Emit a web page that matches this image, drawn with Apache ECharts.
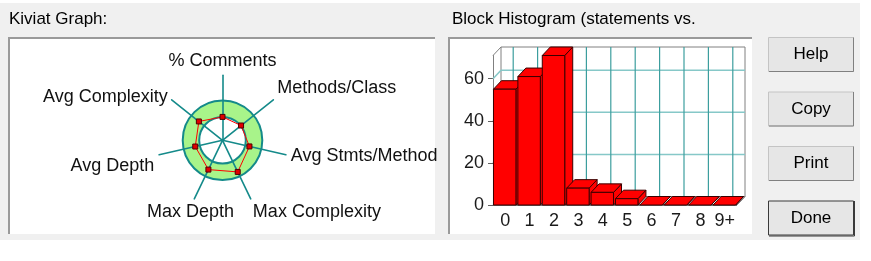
<!DOCTYPE html>
<html>
<head>
<meta charset="utf-8">
<script src="https://cdn.jsdelivr.net/npm/echarts@6/dist/echarts.min.js"></script>
<style>
html,body{margin:0;padding:0;background:#ffffff;}
#c{width:871px;height:261px;}
</style>
</head>
<body>
<div id="c"></div>
<script>
// ---- data ----
const kiviatAxes = ['% Comments', 'Avg Complexity', 'Avg Depth', 'Max Depth', 'Max Complexity', 'Avg Stmts/Method', 'Methods/Class'];
const kiviatValues = [36, 46.5, 43, 50, 54, 42.5, 36.5];
const histCategories = ['0', '1', '2', '3', '4', '5', '6', '7', '8', '9+'];
const histValues = [55, 61, 71, 8, 6, 3, 0, 0, 0, 0];
const yTickValues = [0, 20, 40, 60];
const yMax = 71;
const buttonLabels = ['Help', 'Copy', 'Print', 'Done'];
const titles = ['Kiviat Graph:', 'Block Histogram (statements vs.'];

// ---- style ----
const FONT = 'Liberation Sans, Arial, sans-serif';
const TEAL = '#148a8a';
const DX = 8, DY = -8.5;
const BAR_LINE = '#3a0000';

const labelStyleKey = {
  'Methods/Class': 'up',
  'Max Complexity': 'down',
  'Avg Depth': 'down2',
  'Max Depth': 'md'
};

const chart = echarts.init(document.getElementById('c'), null, {renderer: 'canvas'});

function wallsRender(params, api) {
  const band = api.size([1, 0])[0];
  const n = histCategories.length;
  const x0 = api.coord([0, 0])[0] - band / 2;
  const x1 = api.coord([n - 1, 0])[0] + band / 2;
  const yb = api.coord([0, 0])[1];
  const yt = api.coord([0, yMax])[1];
  const ch = [];
  // floor
  ch.push({type: 'polygon', shape: {points: [[x0, yb], [x1, yb], [x1 + DX, yb + DY], [x0 + DX, yb + DY]]},
    style: {fill: '#ffffff', stroke: '#808080', lineWidth: 1}});
  // back wall
  ch.push({type: 'rect', shape: {x: x0 + DX, y: yt + DY, width: x1 - x0, height: yb - yt},
    style: {fill: '#ffffff', stroke: '#808080', lineWidth: 1}});
  // back horizontal grid
  yTickValues.forEach(function (t) {
    if (t === 0) return;
    const y = api.coord([0, t])[1];
    ch.push({type: 'line', shape: {x1: x0 + DX, y1: y + DY, x2: x1 + DX, y2: y + DY},
      style: {stroke: '#86c8c8', lineWidth: 1.5}});
    ch.push({type: 'line', shape: {x1: x0, y1: y, x2: x0 + DX, y2: y + DY},
      style: {stroke: '#86c8c8', lineWidth: 1.5}});
  });
  // back vertical grid
  histCategories.forEach(function (c, i) {
    const x = api.coord([i, 0])[0];
    ch.push({type: 'line', shape: {x1: x + DX, y1: yt + DY, x2: x + DX, y2: yb + DY},
      style: {stroke: '#3c9e9e', lineWidth: 1.2}});
  });
  // left wall top edge and floor edges
  ch.push({type: 'line', shape: {x1: x0, y1: yt, x2: x0 + DX, y2: yt + DY}, style: {stroke: '#808080', lineWidth: 1}});
  ch.push({type: 'line', shape: {x1: x0, y1: yb, x2: x0 + DX, y2: yb + DY}, style: {stroke: '#808080', lineWidth: 1}});
  ch.push({type: 'line', shape: {x1: x1, y1: yb, x2: x1 + DX, y2: yb + DY}, style: {stroke: '#808080', lineWidth: 1}});
  ch.push({type: 'line', shape: {x1: x0, y1: yb, x2: x1, y2: yb}, style: {stroke: '#202020', lineWidth: 1}});
  return {type: 'group', children: ch};
}

function barRender(params, api) {
  const i = api.value(0), v = api.value(1);
  const top = api.coord([i, v]);
  const base = api.coord([i, 0]);
  const band = api.size([1, 0])[0];
  const w = band * 0.92;
  const l = top[0] - w / 2 - 0.5;
  const r = l + w;
  const st = {fill: '#ff0000', stroke: BAR_LINE, lineWidth: 1};
  const ch = [];
  ch.push({type: 'polygon', shape: {points: [[r, top[1]], [r + DX, top[1] + DY], [r + DX, base[1] + DY], [r, base[1]]]}, style: st});
  ch.push({type: 'polygon', shape: {points: [[l, top[1]], [l + DX, top[1] + DY], [r + DX, top[1] + DY], [r, top[1]]]}, style: st});
  if (base[1] - top[1] > 0.5) {
    ch.push({type: 'rect', shape: {x: l, y: top[1], width: w, height: base[1] - top[1]}, style: st});
  }
  return {type: 'group', children: ch};
}

// buttons & panels (UI chrome)
const graphics = [
  {type: 'rect', z: -100, shape: {x: 0, y: 3, width: 860, height: 237}, style: {fill: '#f0f0f0'}, silent: true},
  {type: 'rect', z: -90, shape: {x: 8, y: 37, width: 427, height: 197}, style: {fill: '#ffffff'}, silent: true},
  {type: 'polyline', z: -89, shape: {points: [[9, 234], [9, 38], [435, 38]]}, style: {stroke: '#9a9a9a', lineWidth: 2, fill: null}, silent: true},
  {type: 'rect', z: -90, shape: {x: 448, y: 37, width: 304, height: 197}, style: {fill: '#ffffff'}, silent: true},
  {type: 'polyline', z: -89, shape: {points: [[449, 234], [449, 38], [752, 38]]}, style: {stroke: '#9a9a9a', lineWidth: 2, fill: null}, silent: true}
];
buttonLabels.forEach(function (b, k) {
  const y = 37 + k * 54.5;
  const isDef = b === 'Done';
  graphics.push({type: 'rect', z: -80, shape: {x: 768.5, y: y + 0.5, width: 85, height: 34},
    style: {fill: '#e6e6e6', stroke: isDef ? '#3a3a3a' : '#c4c4c4', lineWidth: 1}, silent: true});
  if (!isDef) {
    graphics.push({type: 'polyline', z: -79, shape: {points: [[769, y + 34.5], [853.5, y + 34.5], [853.5, y + 0.5]]},
      style: {stroke: '#808080', lineWidth: 1, fill: null}, silent: true});
  } else {
    graphics.push({type: 'polyline', z: -79, shape: {points: [[769, y + 35.5], [854.5, y + 35.5], [854.5, y + 0.5]]},
      style: {stroke: '#3a3a3a', lineWidth: 1, fill: null}, silent: true});
  }
  graphics.push({type: 'text', z: -78, x: 811, y: y + 17.5,
    style: {text: b, fill: '#000000', font: '17px ' + FONT, textAlign: 'center', textVerticalAlign: 'middle'}, silent: true});
});

const option = {
  animation: false,
  backgroundColor: '#ffffff',
  graphic: {elements: graphics},
  title: [
    {text: titles[0], left: 9, top: 11, padding: 0, textStyle: {fontSize: 17, fontWeight: 'normal', color: '#000', fontFamily: FONT}},
    {text: titles[1], left: 452, top: 11, padding: 0, textStyle: {fontSize: 17, fontWeight: 'normal', color: '#000', fontFamily: FONT}}
  ],
  radar: {
    center: [222.5, 140.3],
    radius: 65,
    startAngle: 90,
    shape: 'circle',
    splitNumber: 1,
    z: 3,
    nameGap: 5,
    indicator: kiviatAxes.map(function (n) { return {name: n, max: 100, min: 0}; }),
    axisLine: {lineStyle: {color: TEAL, width: 1.6}},
    splitLine: {show: false},
    splitArea: {show: false},
    axisName: {
      color: '#111111', fontSize: 18, fontFamily: FONT,
      formatter: function (name) {
        const k = labelStyleKey[name];
        return k ? '{' + k + '|' + name + '}' : name;
      },
      rich: {
        up: {fontSize: 18, fontFamily: FONT, color: '#111', padding: [0, 0, 18, 0]},
        down: {fontSize: 18, fontFamily: FONT, color: '#111', padding: [18, 0, 0, 0]},
        down2: {fontSize: 18, fontFamily: FONT, color: '#111', padding: [20, 0, 0, 0]},
        md: {fontSize: 18, fontFamily: FONT, color: '#111', padding: [18, -42, 0, 0]}
      }
    }
  },
  grid: {left: 493, top: 55.5, width: 244, height: 149.5, show: false},
  xAxis: {
    type: 'category', data: histCategories,
    axisLine: {show: false}, axisTick: {show: false}, splitLine: {show: false},
    axisLabel: {interval: 0, fontSize: 18, color: '#1a1a1a', fontFamily: FONT, margin: 7}
  },
  yAxis: {
    type: 'value', min: 0, max: yMax, interval: 20,
    axisLine: {show: true, lineStyle: {color: '#808080'}},
    axisTick: {show: true, length: 5, customValues: yTickValues, lineStyle: {color: '#606060'}},
    axisLabel: {customValues: yTickValues, fontSize: 18, color: '#1a1a1a', fontFamily: FONT, margin: 9},
    splitLine: {show: false}
  },
  series: [
    {
      type: 'pie', z: 1, silent: true, center: [222.5, 140.3], radius: [23.3, 39.8],
      label: {show: false}, labelLine: {show: false}, startAngle: 90,
      itemStyle: {color: '#a8f48a', borderColor: TEAL, borderWidth: 2},
      emphasis: {disabled: true},
      data: [{value: 1, name: 'ring'}]
    },
    {
      type: 'radar', z: 4, silent: true,
      symbol: 'rect', symbolSize: 5,
      lineStyle: {color: '#ff0000', width: 1},
      itemStyle: {color: '#e00000', borderColor: '#500000', borderWidth: 1},
      data: [{value: kiviatValues, name: 'Kiviat'}]
    },
    {
      type: 'custom', z: 1, silent: true, renderItem: wallsRender,
      data: [[0, 0]], encode: {x: 0, y: 1}
    },
    {
      type: 'custom', z: 3, silent: true, renderItem: barRender,
      data: histValues.map(function (v, i) { return [i, v]; }), encode: {x: 0, y: 1}
    }
  ]
};
chart.setOption(option);
</script>
</body>
</html>
